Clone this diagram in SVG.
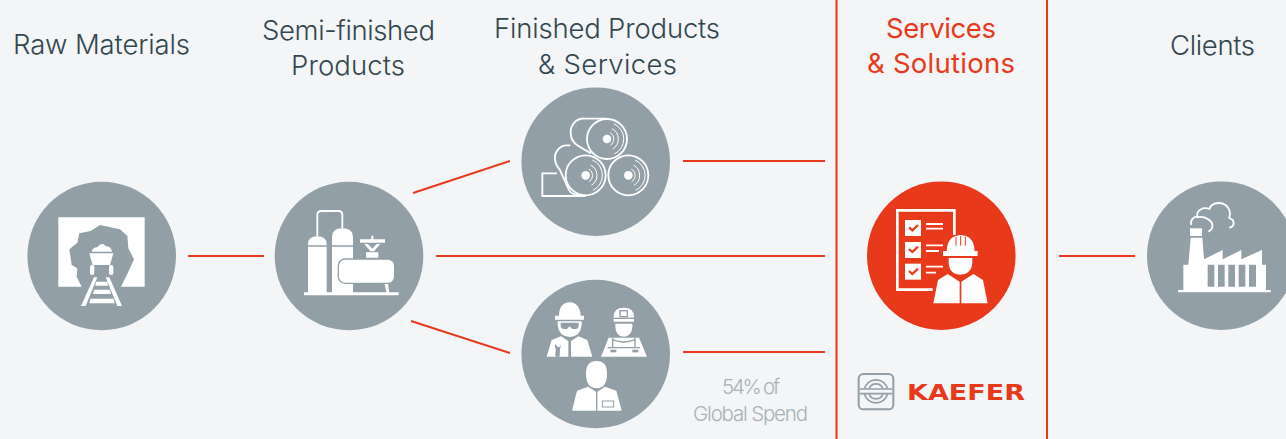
<svg xmlns="http://www.w3.org/2000/svg" width="1286" height="439" viewBox="0 0 1286 439">
<style>
.t{font-family:"Inter","Liberation Sans",sans-serif;font-size:27.500px;font-weight:300;fill:#33474f}
.o{fill:#e8391a;font-weight:400}
.s{font-family:"Inter","Liberation Sans",sans-serif;font-size:20.500px;font-weight:300;fill:#a7b2b8}
.c{fill:#929fa6}
.r{fill:#e8391a}
.l{stroke:#e8391a;stroke-width:2;fill:none}
.w{fill:#fff}
.wl{fill:none;stroke:#fff;stroke-width:5.500}
.wt{fill:none;stroke:#fff;stroke-width:3}
.g{fill:none;stroke:#929fa6;stroke-width:4}
.ic{fill:none;stroke:#e8391a;stroke-width:4}
</style>
<rect width="1286" height="439" fill="#f3f5f7"/>
<g id="connectors">
<path class="l" d="M836.500 0V439M1047 0V439M188 256H264M413 193L510 161M436 256H825M411 321L510 353M683 161H825M683 352H825M1059 256H1135"/>
</g>
<g id="raw-materials">
<text class="t" x="13" y="54" textLength="177">Raw Materials</text>
<circle class="c" cx="101.700" cy="256" r="74.300"/>
<g transform="translate(20 170) scale(.33333)">
<path class="w" fill-rule="evenodd" d="M115 142H374V350H115ZM185 350L170 320L172 295L155 285L148 238L172 218L178 190L212 183L240 165L300 178L322 198L325 235L342 268L325 305L303 350Z"/>
<path class="w" d="M215 245Q218 232 232 232Q240 220 250 222Q256 230 265 230Q275 234 276 245ZM208 250H280L270 285H218Z"/>
<rect class="w" x="210" y="285" width="13" height="30" rx="6"/>
<rect class="w" x="267" y="285" width="13" height="30" rx="6"/>
<path class="w" d="M222 322L183 408H197L232 322ZM257 322L292 408H306L268 322ZM228 335H262L264 347H226ZM222 359H270L273 372H219ZM211 386H281L284 400H208Z"/>
</g>
</g>
<g id="semi-finished">
<text class="t" x="262" y="40" textLength="173">Semi-finished</text>
<text class="t" x="291" y="75" textLength="114">Products</text>
<circle class="c" cx="349" cy="256" r="74.300"/>
<g transform="translate(270 175) scale(.33333)">
<path class="w" d="M102 352H386V361H102ZM114 352V208Q114 184 142 184Q170 184 170 208V352ZM186 352V186Q186 160 217 160Q249 160 249 186V352Z"/>
<path class="wl" d="M142 184V120Q142 108 154 108H205Q217 108 217 120V160"/>
<path class="g" d="M112 213H172M184 213H251"/>
<path class="w" d="M220 324H233L228 354H220ZM343 324H354L358 354H350Z"/>
<rect class="w" x="205" y="252" width="169" height="73" rx="20" stroke="#929fa6" stroke-width="4"/>
<path class="w" d="M270 193H345V203H270ZM304 182H310V193H304ZM288 232H325V248H288ZM283 207H294L307 221L320 207H331L312 229H301Z"/>
</g>
</g>
<g id="finished-products">
<text class="t" x="494" y="38" textLength="226">Finished Products</text>
<text class="t" x="538" y="74" textLength="139">&amp; Services</text>
<circle class="c" cx="595.700" cy="161.700" r="74.300"/>
<g transform="translate(515 80) scale(.33333)">
<path class="wl" d="M275 116H212C185 112 165 135 167 160C168 178 176 190 190 198L228 220"/>
<path class="wl" d="M166 196H155C135 196 118 215 120 238C121 250 126 260 135 270L162 330C168 345 190 347 212 347"/>
<path class="wl" d="M126 280H82V348H212"/>
<circle class="wl" cx="276" cy="177" r="60"/>
<circle class="wl" cx="212" cy="286" r="60"/>
<circle class="wl" cx="340" cy="286" r="60"/>
<circle class="w" cx="276" cy="177" r="13"/>
<circle class="w" cx="212" cy="286" r="13"/>
<circle class="w" cx="340" cy="286" r="13"/>
<path class="wt" d="M296 131A50 50 0 0 1 298 222M291 146A35 35 0 0 1 293 207M285 158A22 22 0 0 1 286 196M232 240A50 50 0 0 1 234 331M227 255A35 35 0 0 1 229 316M221 267A22 22 0 0 1 222 305M360 240A50 50 0 0 1 362 331M355 255A35 35 0 0 1 357 316M349 267A22 22 0 0 1 350 305"/>
</g>
</g>
<g id="people">
<circle class="c" cx="595.700" cy="354" r="74.300"/>
<g transform="translate(515 275) scale(.33333)">
<path class="w" d="M132 122Q132 84 164 82Q195 84 197 122H207V134H120V122Z"/>
<path class="w" d="M128 139H200V150Q197 184 164 186Q131 184 128 150Z"/>
<path class="c" d="M137 143H191V152Q191 162 180 162H172L164 154L156 162H148Q137 162 137 152Z"/>
<path class="w" d="M138 184L160 198V245H95L110 195ZM190 184L168 198V245H232L217 195Z"/>
<path class="c" d="M121 207Q116 214 122 221L121 245H134L135 221Q141 214 136 207V216H128Z"/>
<path class="w" d="M296 125Q296 98 326 98Q357 98 357 125V140H296Z"/>
<path class="g" stroke-width="2" d="M296 130H357"/>
<rect x="313" y="105" width="26" height="22" fill="#929fa6"/>
<rect x="317" y="109" width="18" height="14" fill="#fff"/>
<path class="w" d="M301 146H352V155Q350 184 326 185Q302 184 301 155Z"/>
<path class="w" d="M281 188H372L396 245H258Z"/>
<path class="g" d="M293 188V218M360 188V218M293 194Q326 208 360 194M278 218H375"/>
<rect class="c" x="286" y="224" width="18" height="8"/>
<rect class="c" x="352" y="224" width="18" height="8"/>
<path class="w" d="M213 295Q213 258 245 258Q276 258 276 295Q276 340 245 340Q213 340 213 295Z"/>
<path class="w" d="M219 335L243 350V407H171L186 347ZM270 335L247 350V407H320L304 347Z"/>
<rect x="262" y="378" width="34" height="18" fill="none" stroke="#929fa6" stroke-width="3"/>
</g>
</g>
<g id="services-solutions">
<text class="t o" x="886" y="38" textLength="110">Services</text>
<text class="t o" x="867" y="73" textLength="148">&amp; Solutions</text>
<circle class="r" cx="941.300" cy="255.700" r="74.300"/>
<g transform="translate(860 175) scale(.33333)">
<path class="wl" style="stroke-width:8" d="M218 344H112V106H283V180"/>
<rect class="w" x="135" y="135" width="48" height="48"/>
<rect class="w" x="135" y="201" width="48" height="48"/>
<rect class="w" x="135" y="266" width="48" height="48"/>
<path class="ic" style="stroke-width:7" d="M147 157L157 166L174 150M147 222L157 231L174 215M147 288L157 297L174 281"/>
<path class="wl" d="M198 147H249M198 161H249M198 211H249M198 228H237M198 275H249M198 293H228"/>
<path class="w" d="M260 228Q262 182 302 180Q342 182 344 228H353V243H249V228Z"/>
<path class="ic" style="stroke-width:3" d="M288 186V212M302 183V212M316 186V212"/>
<path class="w" d="M266 249H337V262Q335 298 301 299Q267 298 266 262Z"/>
<path class="w" d="M263 297L299 320V385H220L234 315ZM340 297L304 320V385H383L369 315Z"/>
</g>
<g id="kaefer-logo">
<g transform="translate(850 365) scale(.33333)" fill="none" stroke="#929fa6">
<rect x="26" y="27" width="104" height="106" rx="14" stroke-width="6"/>
<path stroke-width="5" d="M30 72H126M30 86H126M43 72A36 36 0 0 1 113 72M57 72A22 22 0 0 1 99 72M43 86A36 36 0 0 0 113 86M57 86A22 22 0 0 0 99 86"/>
</g>
<text x="907" y="400" font-family="'DejaVu Sans',sans-serif" font-weight="700" font-size="21.500" fill="#e8391a" textLength="118" lengthAdjust="spacingAndGlyphs">KAEFER</text>
</g>
</g>
<g id="clients">
<text class="t" x="1170" y="55" textLength="85">Clients</text>
<circle class="c" cx="1221.300" cy="255.700" r="74.300"/>
<g transform="translate(1140 175) scale(.33333)">
<path class="w" d="M114 345H392V352H114ZM130 345V269H145L152 188H187L192 253L248 225V253L304 225V253L366 225V269H378V345Z"/>
<rect class="w" x="150" y="160" width="36" height="23"/>
<path fill="#929fa6" d="M203 269H223V335H203ZM234 269H254V335H234ZM265 269H285V335H265ZM296 269H316V335H296ZM327 269H348V335H327Z"/>
<path class="wl" d="M154 150C150 135 160 125 172 125C168 105 190 95 208 102C215 80 255 75 268 105C275 125 262 128 270 130C285 135 285 155 268 158"/>
<path class="wl" d="M170 127C185 122 205 130 215 142C222 155 215 165 205 170"/>
</g>
</g>
<g id="spend-note">
<text class="s" x="722" y="394" textLength="58">54% of</text>
<text class="s" x="693" y="421" textLength="115">Global Spend</text>
</g>
</svg>
